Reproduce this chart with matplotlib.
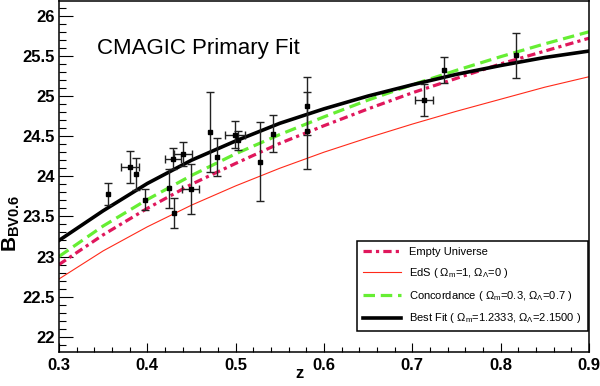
import numpy as np
import matplotlib
matplotlib.use("Agg")
import matplotlib.pyplot as plt
from matplotlib.ticker import MultipleLocator, FormatStrFormatter

# --- Data ---
z_grid = [0.30, 0.35, 0.40, 0.45, 0.50, 0.55, 0.60, 0.65, 0.70, 0.75, 0.80, 0.85, 0.90]
empty_universe = [22.90, 23.27, 23.60, 23.90, 24.16, 24.41, 24.63, 24.84, 25.04, 25.22, 25.40, 25.56, 25.72]
eds = [22.72, 23.07, 23.37, 23.64, 23.88, 24.10, 24.30, 24.48, 24.65, 24.81, 24.96, 25.11, 25.24]
concordance = [23.00, 23.38, 23.71, 24.01, 24.28, 24.52, 24.74, 24.95, 25.14, 25.32, 25.49, 25.65, 25.80]
best_fit = [23.20, 23.57, 23.91, 24.20, 24.44, 24.66, 24.84, 25.00, 25.14, 25.27, 25.38, 25.48, 25.56]

sn_z = [0.355, 0.380, 0.387, 0.397, 0.424, 0.430, 0.429, 0.440, 0.449, 0.471,
        0.479, 0.499, 0.503, 0.527, 0.542, 0.581, 0.581, 0.713, 0.736, 0.817]
sn_b = [23.78, 24.12, 24.03, 23.71, 23.85, 23.54, 24.22, 24.28, 23.84, 24.55,
        24.24, 24.52, 24.45, 24.18, 24.53, 24.88, 24.57, 24.95, 25.32, 25.51]
sn_zerr = [0, 0.010, 0, 0, 0, 0, 0.009, 0.010, 0.010, 0,
           0, 0.011, 0, 0, 0, 0, 0, 0.010, 0, 0]
sn_berr = [0.14, 0.20, 0.20, 0.13, 0.24, 0.19, 0.13, 0.15, 0.31, 0.50,
           0.24, 0.17, 0.12, 0.49, 0.23, 0.36, 0.48, 0.20, 0.16, 0.28]

# --- Style ---
plt.rcParams['font.family'] = ['Liberation Sans', 'DejaVu Sans']
plt.rcParams['mathtext.fontset'] = 'custom'
plt.rcParams['mathtext.rm'] = 'Liberation Sans'
plt.rcParams['mathtext.it'] = 'Liberation Sans:italic'
plt.rcParams['mathtext.bf'] = 'Liberation Sans:bold'

fig = plt.figure(figsize=(6, 3.86), dpi=100)
ax = fig.add_axes([59 / 600, 1 - 352 / 386, 530 / 600, 351.5 / 386])

# model curves
ax.plot(z_grid, empty_universe, color='#e0175c', lw=2.3, dashes=(2.6, 1.3, 1.0, 1.3),
        label='Empty Universe')
ax.plot(z_grid, eds, color='#ff2a1a', lw=0.8,
        label=r'EdS ( $\Omega_{\rm m}$=1, $\Omega_{\Lambda}$=0 )')
ax.plot(z_grid, concordance, color='#66ee33', lw=2.3, dashes=(3.6, 1.8),
        label=r'Concordance ( $\Omega_{\rm m}$=0.3, $\Omega_{\Lambda}$=0.7 )')
ax.plot(z_grid, best_fit, color='black', lw=2.6,
        label=r'Best Fit ( $\Omega_{\rm m}$=1.2333, $\Omega_{\Lambda}$=2.1500 )')

# supernova points, with and without a redshift error
z = np.array(sn_z)
b = np.array(sn_b)
ze = np.array(sn_zerr)
be = np.array(sn_berr)
has_x = ze > 0
ax.errorbar(z[~has_x], b[~has_x], yerr=be[~has_x], fmt='s', ms=3, color='black',
            ecolor='#222222', elinewidth=1.0, capsize=3, capthick=1.0, zorder=5)
ax.errorbar(z[has_x], b[has_x], xerr=ze[has_x], yerr=be[has_x], fmt='s', ms=3, color='black',
            ecolor='#222222', elinewidth=1.0, capsize=3, capthick=1.0, zorder=5)

# --- Axes ---
ax.set_xlim(0.3, 0.9)
ax.set_ylim(21.81, 26.19)
ax.xaxis.set_major_locator(MultipleLocator(0.1))
ax.xaxis.set_minor_locator(MultipleLocator(0.02))
ax.yaxis.set_major_locator(MultipleLocator(0.5))
ax.yaxis.set_minor_locator(MultipleLocator(0.1))
ax.xaxis.set_major_formatter(FormatStrFormatter('%.1f'))
ax.yaxis.set_major_formatter(FormatStrFormatter('%g'))
ax.tick_params(axis='both', which='both', direction='in', top=False, right=False, width=0.8)
ax.tick_params(axis='y', which='major', length=10, pad=3)
ax.tick_params(axis='y', which='minor', length=5)
ax.tick_params(axis='x', which='major', length=6.7, pad=4)
ax.tick_params(axis='x', which='minor', length=3.6)
for lab in ax.get_xticklabels() + ax.get_yticklabels():
    lab.set_fontsize(12)
    lab.set_fontweight('bold')
for sp in ax.spines.values():
    sp.set_linewidth(1.1)

ax.set_xlabel('z', fontsize=12, fontweight='bold')
ax.xaxis.set_label_coords(241 / 531, -0.04)
ax.set_ylabel(r'$\mathbf{B_{BV0.6}}$', fontsize=15)
ax.yaxis.set_label_coords(-0.07, 0.367)

ax.text(0.0716, 0.848, 'CMAGIC Primary Fit', transform=ax.transAxes,
        fontsize=16, va='baseline', ha='left')

leg = ax.legend(loc='lower left', bbox_to_anchor=(0.5625, 0.0597, 0.4355, 0.24), mode='expand',
                fontsize=8, handlelength=3.45, handletextpad=0.72, labelspacing=0.8,
                borderpad=0.5, borderaxespad=0, fancybox=False, framealpha=1)
leg.get_frame().set_edgecolor('black')
leg.get_frame().set_linewidth(1.1)

fig.savefig('out.png', dpi=100)
